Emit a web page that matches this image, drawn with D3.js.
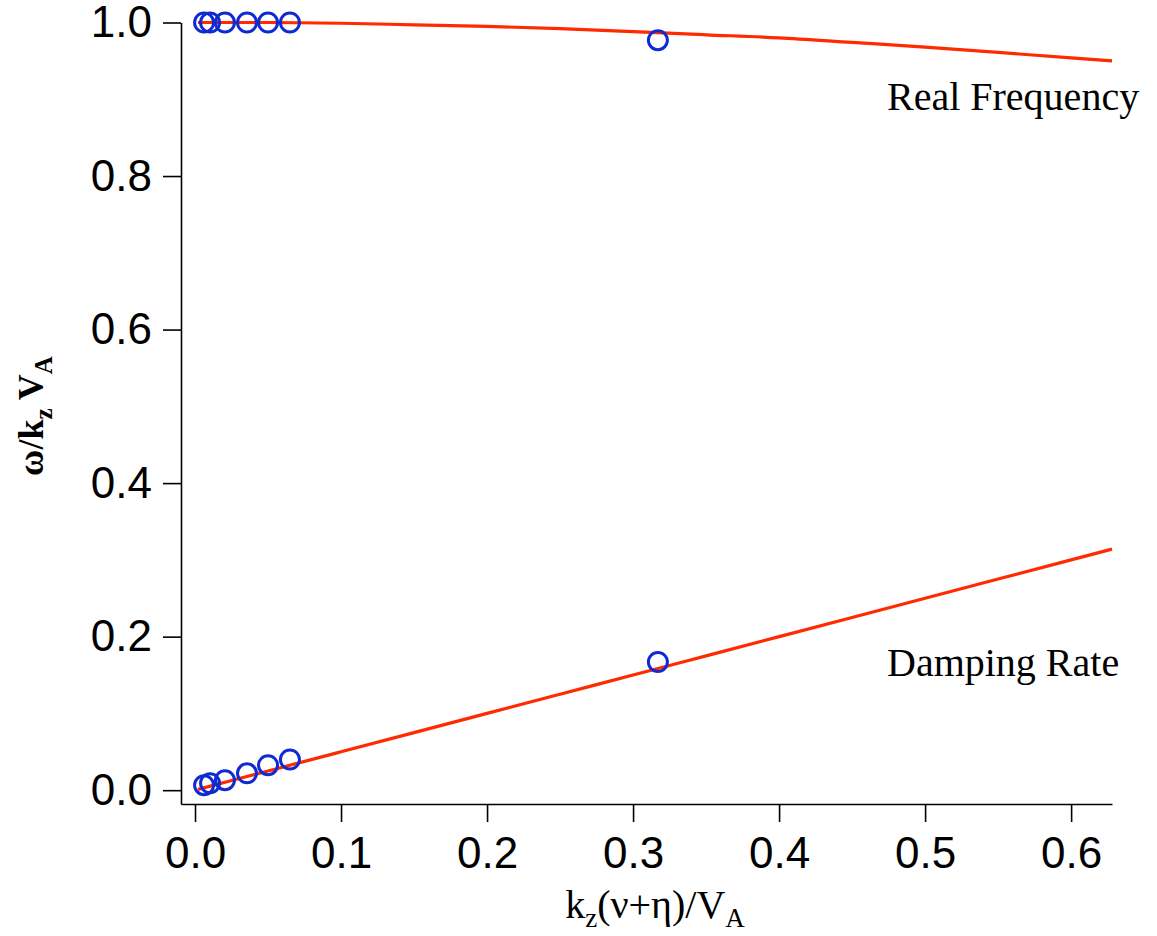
<!DOCTYPE html>
<html>
<head>
<meta charset="utf-8">
<script src="https://cdn.jsdelivr.net/npm/d3@7"></script>
<style>
  html, body { margin: 0; padding: 0; background: #fff; }
  .axis path, .axis line { stroke: #000; stroke-width: 1.6px; }
  .axis text { font-family: "Liberation Sans", Arial, sans-serif; font-size: 44px; fill: #000; }
  .label { font-family: "Liberation Serif", "Times New Roman", serif; fill: #000; }
</style>
</head>
<body>
<div id="chart"></div>
<script>
// measured points (kz(nu+eta)/VA)
const pointX = [0.0062, 0.0103, 0.0205, 0.0356, 0.050, 0.065, 0.317];
const realPoints = [1.0, 1.0, 1.0, 1.0, 1.0, 1.0, 0.977];
const dampPoints = [0.0065, 0.009, 0.013, 0.022, 0.0326, 0.040, 0.167];

// theory curves
const curveX = [0.002, 0.05, 0.1, 0.15, 0.2, 0.25, 0.3, 0.35, 0.4, 0.45, 0.5, 0.55, 0.6, 0.628];
const realCurve = [1.0, 1.0, 0.999, 0.997, 0.995, 0.992, 0.988, 0.984, 0.980, 0.974, 0.968, 0.961, 0.954, 0.950];
const dampCurve = [0.001, 0.025, 0.05, 0.075, 0.1, 0.125, 0.15, 0.175, 0.2, 0.225, 0.25, 0.275, 0.3, 0.314];

const xTicks = [0, 0.1, 0.2, 0.3, 0.4, 0.5, 0.6];
const yTicks = [0, 0.2, 0.4, 0.6, 0.8, 1.0];

const width = 1157, height = 936;
const plot = { left: 181, right: 1112, top: 22.5, bottom: 804 };

const svg = d3.select("#chart").append("svg")
  .attr("width", width)
  .attr("height", height);

const x = d3.scaleLinear().domain([-0.0096, 0.628]).range([plot.left, plot.right]);
const y = d3.scaleLinear().domain([-0.018, 1.0]).range([plot.bottom, plot.top]);

svg.append("g")
  .attr("class", "axis")
  .attr("transform", `translate(${plot.left},0)`)
  .call(d3.axisLeft(y).tickValues(yTicks).tickFormat(d3.format(".1f"))
    .tickSize(18).tickSizeOuter(0).tickPadding(11));

svg.append("g")
  .attr("class", "axis")
  .attr("transform", `translate(0,${plot.bottom})`)
  .call(d3.axisBottom(x).tickValues(xTicks).tickFormat(d3.format(".1f"))
    .tickSize(18).tickSizeOuter(0).tickPadding(15));

const line = d3.line()
  .curve(d3.curveMonotoneX)
  .x((d) => x(d[0]))
  .y((d) => y(d[1]));

[realCurve, dampCurve].forEach((vals) => {
  svg.append("path")
    .datum(curveX.map((v, i) => [v, vals[i]]))
    .attr("fill", "none")
    .attr("stroke", "#ff2a00")
    .attr("stroke-width", 3.2)
    .attr("d", line);
});

[realPoints, dampPoints].forEach((vals) => {
  svg.append("g")
    .selectAll("circle")
    .data(pointX.map((v, i) => [v, vals[i]]))
    .enter()
    .append("circle")
    .attr("cx", (d) => x(d[0]))
    .attr("cy", (d) => y(d[1]))
    .attr("r", 9.5)
    .attr("fill", "none")
    .attr("stroke", "#0f2ad2")
    .attr("stroke-width", 3);
});

// annotations
svg.append("text").attr("class", "label")
  .attr("x", 887).attr("y", 110)
  .style("font-size", "40px")
  .text("Real Frequency");

svg.append("text").attr("class", "label")
  .attr("x", 887).attr("y", 676)
  .style("font-size", "40px")
  .text("Damping Rate");

// x axis title
const xt = svg.append("text").attr("class", "label")
  .attr("x", 655).attr("y", 918)
  .attr("text-anchor", "middle")
  .style("font-size", "40px");
xt.append("tspan").text("k");
xt.append("tspan").attr("dy", 9).style("font-size", "27px").text("z");
xt.append("tspan").attr("dy", -9).text("(ν+η)/V");
xt.append("tspan").attr("dy", 9).style("font-size", "27px").text("A");

// y axis title
const yt = svg.append("text").attr("class", "label")
  .attr("transform", "translate(43,416) rotate(-90)")
  .attr("text-anchor", "middle")
  .style("font-size", "36px")
  .style("font-weight", "bold");
yt.append("tspan").text("ω/k");
yt.append("tspan").attr("dy", 9).style("font-size", "25px").text("z");
yt.append("tspan").attr("dy", -9).text(" V");
yt.append("tspan").attr("dy", 9).style("font-size", "25px").text("A");
</script>
</body>
</html>
